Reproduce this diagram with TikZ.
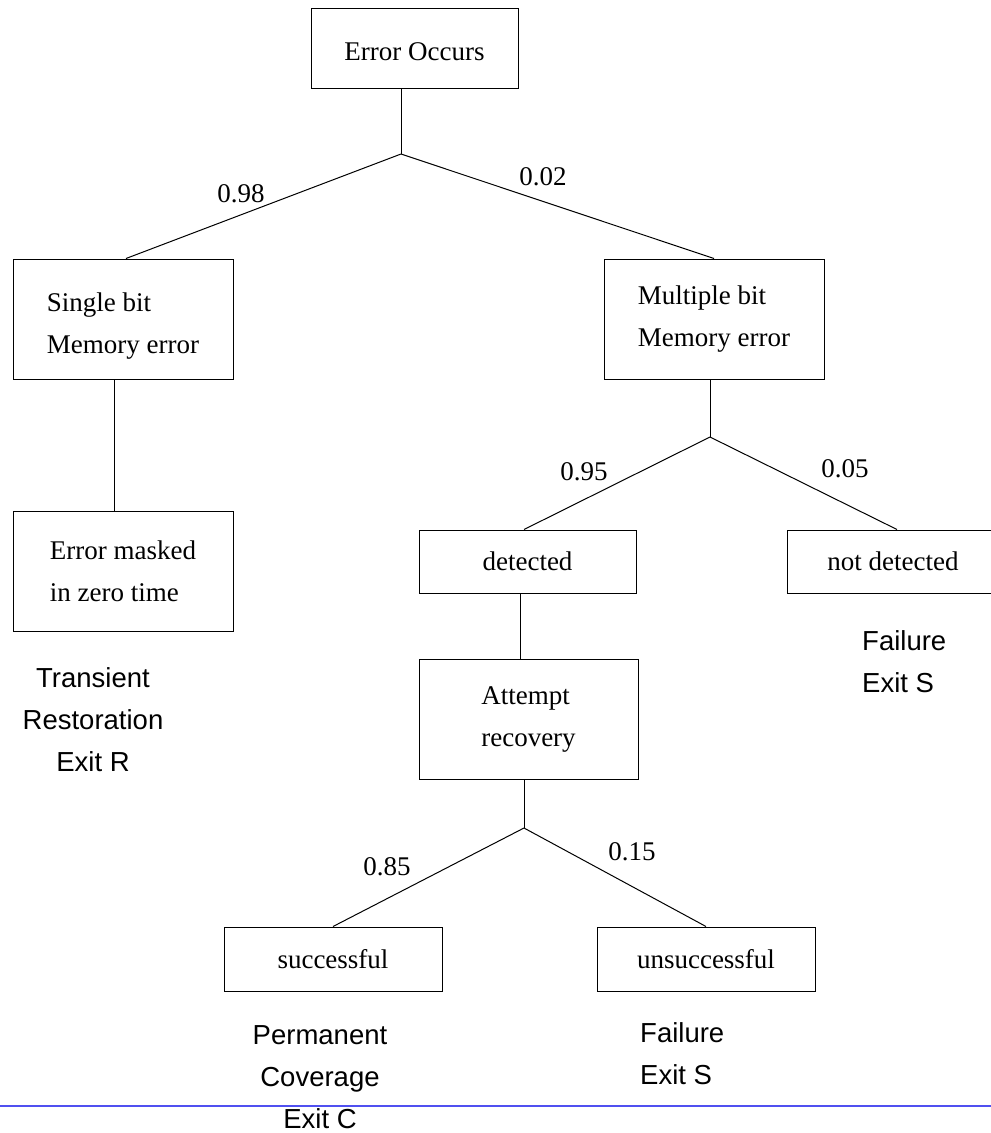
\documentclass[tikz,border=0pt]{standalone}
\usepackage{fontspec}
\setmainfont{Liberation Serif}
\setsansfont{Liberation Sans}
\definecolor{ruleblue}{RGB}{80,80,240}
\tikzset{
  stagebox/.style={draw, line width=1pt, inner sep=0pt, align=left,
    font=\fontsize{27}{42}\selectfont},
  wire/.style={line width=1pt},
  prob/.style={inner sep=0pt, font=\fontsize{27}{32}\selectfont},
  exitnote/.style={inner sep=0pt, font=\sffamily\fontsize{27.5}{42}\selectfont},
}
\begin{document}
\begin{tikzpicture}[x=1pt, y=-1pt]
  \useasboundingbox (0,0) rectangle (991,1133);

  % Top event
  \node[stagebox, minimum width=207pt, minimum height=80pt, text height=26pt] (occurs) at (414.5,48) {Error Occurs};

  % First split
  \node[stagebox, minimum width=220pt, minimum height=120pt, text height=74pt] (single) at (123,319) {Single bit\\Memory error};
  \node[stagebox, minimum width=220pt, minimum height=120pt] (multiple) at (714,319) {Multiple bit\\Memory error};
  \node[stagebox, minimum width=220pt, minimum height=120pt] (masked) at (123,571) {Error masked\\in zero time};

  % Detection
  \node[stagebox, minimum width=217pt, minimum height=63pt] (detected) at (527.5,561.5) {detected};
  \node[stagebox, minimum width=212pt, minimum height=63pt] (notdet) at (893,561.5) {not detected};
  \node[stagebox, minimum width=219pt, minimum height=120pt] (attempt) at (528.5,719) {Attempt\\recovery};

  % Recovery outcome
  \node[stagebox, minimum width=218pt, minimum height=64pt] (success) at (333,959) {successful};
  \node[stagebox, minimum width=218pt, minimum height=64pt] (unsucc) at (706,959) {unsuccessful};

  % Branch points
  \coordinate (j1) at (401,154);
  \coordinate (j2) at (710,437);
  \coordinate (j3) at (524,828);

  % Connectors
  \draw[wire] (j1 |- occurs.south) -- (j1);
  \draw[wire] (j1) -- ([xshift=3pt]single.north);
  \draw[wire] (j1) -- (multiple.north);
  \draw[wire] ([xshift=-9pt]single.south) -- ([xshift=-9pt]masked.north);
  \draw[wire] (j2 |- multiple.south) -- (j2);
  \draw[wire] (j2) -- ([xshift=-3.5pt]detected.north);
  \draw[wire] (j2) -- ([xshift=4pt]notdet.north);
  \draw[wire] ([xshift=-7.5pt]detected.south) -- ([xshift=-7.5pt]detected.south |- attempt.north);
  \draw[wire] (j3 |- attempt.south) -- (j3);
  \draw[wire] (j3) -- (success.north);
  \draw[wire] (j3) -- (unsucc.north);

  % Probabilities
  \node[prob] (p98) at (241,194) {0.98};
  \node[prob] (p02) at (543,177) {0.02};
  \node[prob] (p95) at (584,472) {0.95};
  \node[prob] (p05) at (845,469) {0.05};
  \node[prob] (p85) at (387,867) {0.85};
  \node[prob] (p15) at (632,852) {0.15};

  % Exits
  \node[exitnote, align=center] (exitR) at (93,720) {Transient\\Restoration\\Exit R};
  \node[exitnote, align=left, anchor=west] (exitS1) at (862,661.5) {Failure\\Exit S};
  \node[exitnote, align=center] (exitC) at (320,1077.5) {Permanent\\Coverage\\Exit C};
  \node[exitnote, align=left, anchor=west] (exitS2) at (640,1054) {Failure\\Exit S};

  % Page rule
  \draw[ruleblue, line width=1.5pt] (0,1106) -- (991,1106);

\end{tikzpicture}
\end{document}
